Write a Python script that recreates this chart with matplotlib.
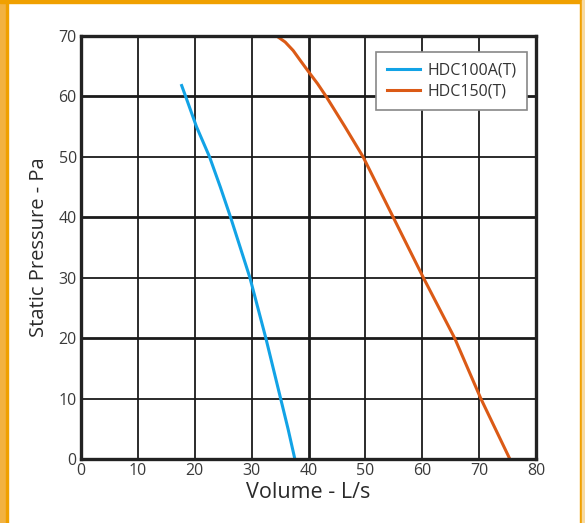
import matplotlib
matplotlib.use('Agg')
import matplotlib.pyplot as plt
from matplotlib.patches import Rectangle

# Fan curves
hdc100_volume = [17.7, 18.4, 20.3, 22.6, 24.5, 26.3, 28.0, 29.7, 31.1, 32.5, 33.8, 35.1, 36.4, 37.6]
hdc100_pressure = [61.8, 60, 55, 50, 45, 40, 35, 30, 25, 20, 15, 10, 5, 0]

hdc150_volume = [34.4, 35.9, 37.3, 38.6, 40.0, 41.6, 43.1, 44.75, 46.4, 49.6, 54.9, 60.2, 65.7, 70.3, 75.4]
hdc150_pressure = [70, 69.0, 67.6, 65.9, 64.1, 62.1, 60, 57.5, 55, 50, 40, 30, 20, 10, 0]

x_ticks = [0, 10, 20, 30, 40, 50, 60, 70, 80]
y_ticks = [0, 10, 20, 30, 40, 50, 60, 70]

plt.rcParams['font.family'] = ['Open Sans', 'DejaVu Sans']

fig = plt.figure(figsize=(5.85, 5.23), dpi=100)
ax = fig.add_axes([81 / 585, 1 - 459 / 523, 455 / 585, 423 / 523])

# grid, with a few heavier lines as in the original
for x in x_ticks[1:-1]:
    ax.axvline(x, color='#1a1a1a', lw=2.0 if x == 40 else 1.3, zorder=1)
for y in y_ticks[1:-1]:
    ax.axhline(y, color='#1a1a1a', lw=2.0 if y in (20, 40, 60) else 1.3, zorder=1)

ax.plot(hdc100_volume, hdc100_pressure, color='#12a3e6', lw=2.2, label='HDC100A(T)', zorder=3)
ax.plot(hdc150_volume, hdc150_pressure, color='#db5a16', lw=2.2, label='HDC150(T)', zorder=3)

ax.set_xlim(0, 80)
ax.set_ylim(0, 70)
ax.set_xticks(x_ticks)
ax.set_yticks(y_ticks)
ax.tick_params(length=0, labelsize=11.5, labelcolor='#3a3a3a', pad=3)
for s in ax.spines.values():
    s.set_linewidth(2.4)
    s.set_color('#222222')
    s.set_zorder(4)

ax.set_xlabel('Volume - L/s', fontsize=15.5, color='#2a2a2a', labelpad=2)
ax.set_ylabel('Static Pressure - Pa', fontsize=14.5, color='#2a2a2a', labelpad=7)

leg = ax.legend(loc='upper right', bbox_to_anchor=(0.98, 0.962), borderaxespad=0,
                fontsize=11.5, frameon=True, fancybox=False, framealpha=1,
                edgecolor='#888888', handlelength=2.1, handletextpad=0.45,
                borderpad=0.65, labelspacing=0.3)
leg.get_frame().set_linewidth(1.2)
leg.set_zorder(5)
for t in leg.get_texts():
    t.set_color('#333333')

# orange frame around the picture
W, H = 585, 523
fig.patches.append(Rectangle((0, 0), 6 / W, 1, transform=fig.transFigure, color='#f2b241', zorder=0))
fig.patches.append(Rectangle((6 / W, 0), 1.5 / W, 1, transform=fig.transFigure, color='#f0a000', zorder=0))
fig.patches.append(Rectangle((0, 1 - 3 / H), 1, 3 / H, transform=fig.transFigure, color='#f0a000', zorder=0))
fig.patches.append(Rectangle((580 / W, 0), 1.5 / W, 1, transform=fig.transFigure, color='#f0a000', zorder=0))
fig.patches.append(Rectangle((581.5 / W, 0), 3.5 / W, 1, transform=fig.transFigure, color='#f7d9a0', zorder=0))

fig.savefig('out.png', dpi=100)
